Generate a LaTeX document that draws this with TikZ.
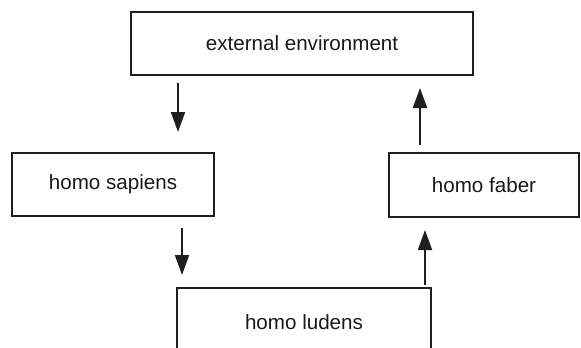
\documentclass[tikz,border=0pt]{standalone}
\usepackage{fontspec}
\setmainfont{Liberation Sans}
\usetikzlibrary{arrows.meta}
\begin{document}
\begin{tikzpicture}[x=1pt,y=-1pt,
  box/.style={draw=black!88, line width=1.9pt, rectangle, inner sep=0pt, outer sep=0pt,
    font=\fontsize{20.6pt}{24pt}\selectfont, text=black!90},
  flow/.style={draw=black!88, line width=1.9pt,
    -{Triangle[length=20pt,width=14pt]}}]
  \useasboundingbox (0,0) rectangle (581,348);
  \fill[white] (0,0) rectangle (581,348);

  % boxes of the cycle
  \node[box, minimum width=342pt, minimum height=63pt] (ext) at (302,43.5) {external environment};
  \node[box, minimum width=202pt, minimum height=63pt] (sap) at (113,184.5) {homo sapiens};
  \node[box, minimum width=190pt, minimum height=64pt] (fab) at (484,185) {homo faber};
  \node[box, minimum width=254pt, minimum height=68pt] (lud) at (304,322) {homo ludens};

  % arrow end points, placed off the box corners
  \coordinate (a1s) at ([xshift=47pt,yshift=-8pt]ext.south west);
  \coordinate (a1e) at ([xshift=166pt,yshift=21pt]sap.north west);
  \coordinate (a2s) at ([xshift=31pt,yshift=8pt]fab.north west);
  \coordinate (a2e) at ([xshift=289pt,yshift=-13pt]ext.south west);
  \coordinate (a3s) at ([xshift=-32pt,yshift=-12pt]sap.south east);
  \coordinate (a3e) at ([xshift=5pt,yshift=13pt]lud.north west);
  \coordinate (a4s) at ([xshift=-6pt,yshift=3pt]lud.north east);
  \coordinate (a4e) at ([xshift=36pt,yshift=-13pt]fab.south west);

  \draw[flow] (a1s) -- (a1e);
  \draw[flow] (a2s) -- (a2e);
  \draw[flow] (a3s) -- (a3e);
  \draw[flow] (a4s) -- (a4e);
\end{tikzpicture}
\end{document}
